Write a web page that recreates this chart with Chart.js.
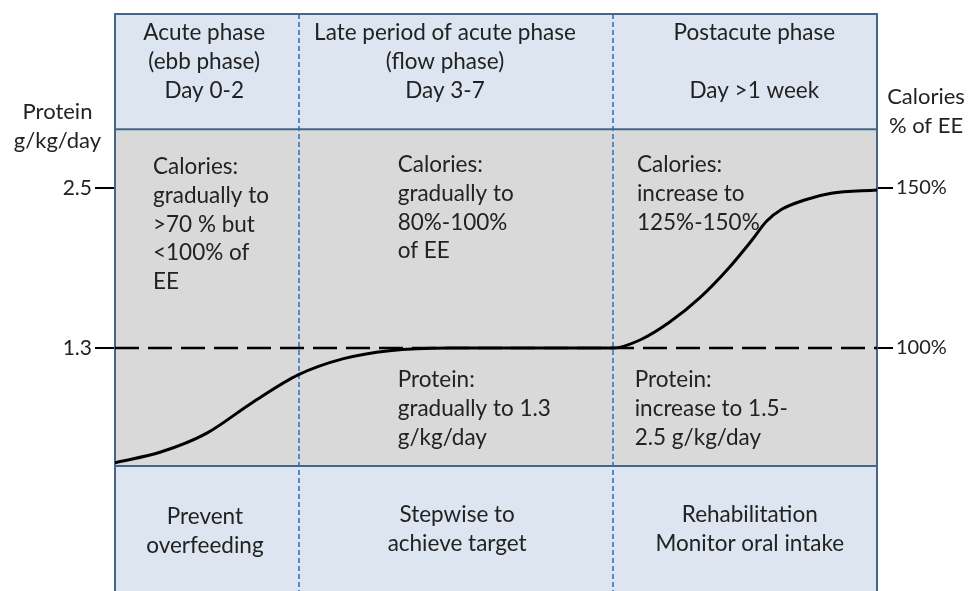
<!DOCTYPE html>
<html>
<head>
<meta charset="utf-8">
<script src="https://cdn.jsdelivr.net/npm/chart.js@4"></script>
<style>
  html, body { margin: 0; padding: 0; background: #fff; }
  #wrap { width: 969px; height: 591px; }
</style>
</head>
<body>
<div id="wrap"><canvas id="phase-chart" width="969" height="591"></canvas></div>
<script>
// curve (protein g/kg/day) over the time axis, 0 = day 0, 100 = right edge
const curveX = [0, 6, 12, 18, 24.1, 30, 36, 44, 55, 65.4, 68.9, 72.8, 76.8, 80.7, 83.6, 85.5, 87.5, 90.5, 94.0, 100];
const curveY = [0.44, 0.52, 0.66, 0.89, 1.10, 1.22, 1.28, 1.30, 1.30, 1.30, 1.36, 1.495, 1.68, 1.91, 2.11, 2.25, 2.34, 2.41, 2.46, 2.485];

const targetProtein = 1.3;
const proteinTicks = [2.5, 1.3];
const calorieTicks = ['150%', '100%'];

// phase borders on the time axis
const phaseEdges = [0, 24.1, 65.4, 100];
const headerTop = 3.805, headerBottom = 2.94, grayBottom = 0.415, chartBottom = -0.5225;

const headerText = [
  { x: 11.7, y: 3.6625, lines: ['Acute phase', '(ebb phase)', 'Day 0-2'] },
  { x: 43.3, y: 3.6625, lines: ['Late period of acute phase', '(flow phase)', 'Day 3-7'] },
  { x: 83.9, y: 3.6625, lines: ['Postacute phase', '', 'Day >1 week'] }
];
const noteText = [
  { x: 4.99, y: 2.6575, lines: ['Calories:', 'gradually to', '>70 % but', '<100% of', 'EE'] },
  { x: 37.1, y: 2.6725, lines: ['Calories:', 'gradually to', '80%-100%', 'of EE'] },
  { x: 37.1, y: 1.06, lines: ['Protein:', 'gradually to 1.3', 'g/kg/day'] },
  { x: 68.5, y: 2.6725, lines: ['Calories:', 'increase to', '125%-150%'] },
  { x: 68.2, y: 1.06, lines: ['Protein:', 'increase to 1.5-', '2.5 g/kg/day'] }
];
const footerText = [
  { x: 11.8, y: 0.0325, lines: ['Prevent', 'overfeeding'] },
  { x: 44.9, y: 0.0475, lines: ['Stepwise to', 'achieve target'] },
  { x: 83.3, y: 0.0475, lines: ['Rehabilitation', 'Monitor oral intake'] }
];
const leftTitle = { y: 3.07, lines: ['Protein', 'g/kg/day'] };
const rightTitle = { y: 3.1825, lines: ['Calories', '% of EE'] };

const FONT = '22.5px Lato';
const SIDE_FONT = '22px Lato';
const TEXT_COLOR = '#222';
const LINE_GAP = 28.7;

function drawLines(ctx, px, py, lines, align) {
  ctx.textAlign = align;
  ctx.textBaseline = 'middle';
  lines.forEach((t, i) => ctx.fillText(t, px, py + i * LINE_GAP));
}

const panelsPlugin = {
  id: 'panels',
  beforeDatasetsDraw(chart) {
    const ctx = chart.ctx;
    const xs = chart.scales.x, ys = chart.scales.y;
    const left = xs.getPixelForValue(0), right = xs.getPixelForValue(100);
    const yTop = ys.getPixelForValue(headerTop);
    const yHead = ys.getPixelForValue(headerBottom);
    const yGray = ys.getPixelForValue(grayBottom);
    const yBot = ys.getPixelForValue(chartBottom) + 2;
    ctx.save();
    ctx.fillStyle = '#dce5f0';
    ctx.fillRect(left, yTop, right - left, yHead - yTop);
    ctx.fillRect(left, yGray, right - left, yBot - yGray);
    ctx.fillStyle = '#d9d9d9';
    ctx.fillRect(left, yHead, right - left, yGray - yHead);

    // phase dividers
    ctx.strokeStyle = '#5a87c0';
    ctx.lineWidth = 2;
    ctx.setLineDash([5, 3]);
    phaseEdges.slice(1, -1).forEach(v => {
      const px = Math.round(xs.getPixelForValue(v));
      ctx.beginPath();
      ctx.moveTo(px, yTop);
      ctx.lineTo(px, yBot);
      ctx.stroke();
    });
    ctx.setLineDash([]);

    // frame
    ctx.strokeStyle = '#46658c';
    ctx.lineWidth = 2;
    ctx.beginPath();
    ctx.moveTo(left, yBot);
    ctx.lineTo(left, yTop);
    ctx.lineTo(right, yTop);
    ctx.lineTo(right, yBot);
    ctx.moveTo(left, yHead);
    ctx.lineTo(right, yHead);
    ctx.moveTo(left, yGray);
    ctx.lineTo(right, yGray);
    ctx.stroke();

    ctx.fillStyle = TEXT_COLOR;
    ctx.font = FONT;
    headerText.concat(footerText).forEach(b =>
      drawLines(ctx, xs.getPixelForValue(b.x), ys.getPixelForValue(b.y), b.lines, 'center'));
    noteText.forEach(b =>
      drawLines(ctx, xs.getPixelForValue(b.x), ys.getPixelForValue(b.y), b.lines, 'left'));

    const yl = chart.scales.y, yr = chart.scales.y2;
    ctx.font = SIDE_FONT;
    drawLines(ctx, (yl.left + yl.right) / 2, ys.getPixelForValue(leftTitle.y), leftTitle.lines, 'center');
    drawLines(ctx, (yr.left + yr.right) / 2 + 3, ys.getPixelForValue(rightTitle.y), rightTitle.lines, 'center');
    ctx.restore();
  }
};

const ctx = document.getElementById('phase-chart').getContext('2d');
const chart = new Chart(ctx, {
  type: 'line',
  data: {
    datasets: [
      {
        label: 'Protein',
        data: curveX.map((x, i) => ({ x: x, y: curveY[i] })),
        borderColor: '#000',
        borderWidth: 3,
        pointRadius: 0,
        cubicInterpolationMode: 'monotone',
        order: 0
      },
      {
        label: 'Target',
        data: [{ x: 0, y: targetProtein }, { x: 100, y: targetProtein }],
        borderColor: '#000',
        borderWidth: 2.5,
        borderDash: [24, 9],
        pointRadius: 0,
        order: 1
      }
    ]
  },
  options: {
    responsive: false,
    animation: false,
    devicePixelRatio: 1,
    layout: { padding: { top: 14, left: 0, right: 0, bottom: 0 } },
    plugins: { legend: { display: false }, tooltip: { enabled: false } },
    scales: {
      x: { type: 'linear', min: 0, max: 100, display: false },
      y: {
        type: 'linear',
        position: 'left',
        min: chartBottom,
        max: headerTop,
        afterBuildTicks: s => { s.ticks = proteinTicks.map(v => ({ value: v })); },
        afterFit: s => { s.width = 115; s.paddingTop = 0; s.paddingBottom = 0; },
        ticks: {
          callback: v => v.toFixed(1),
          font: { family: 'Lato', size: 21 },
          color: TEXT_COLOR,
          padding: 3
        },
        grid: { drawOnChartArea: false, drawTicks: true, tickLength: 20, color: '#000', lineWidth: 2 },
        border: { display: false }
      },
      y2: {
        type: 'linear',
        position: 'right',
        min: chartBottom,
        max: headerTop,
        afterBuildTicks: s => { s.ticks = proteinTicks.map(v => ({ value: v })); },
        afterFit: s => { s.width = 92; s.paddingTop = 0; s.paddingBottom = 0; },
        ticks: {
          callback: v => calorieTicks[proteinTicks.indexOf(v)],
          font: { family: 'Lato', size: 20 },
          color: TEXT_COLOR,
          padding: 3
        },
        grid: { drawOnChartArea: false, drawTicks: true, tickLength: 16, color: '#000', lineWidth: 2 },
        border: { display: false }
      }
    }
  },
  plugins: [panelsPlugin]
});
</script>
</body>
</html>
